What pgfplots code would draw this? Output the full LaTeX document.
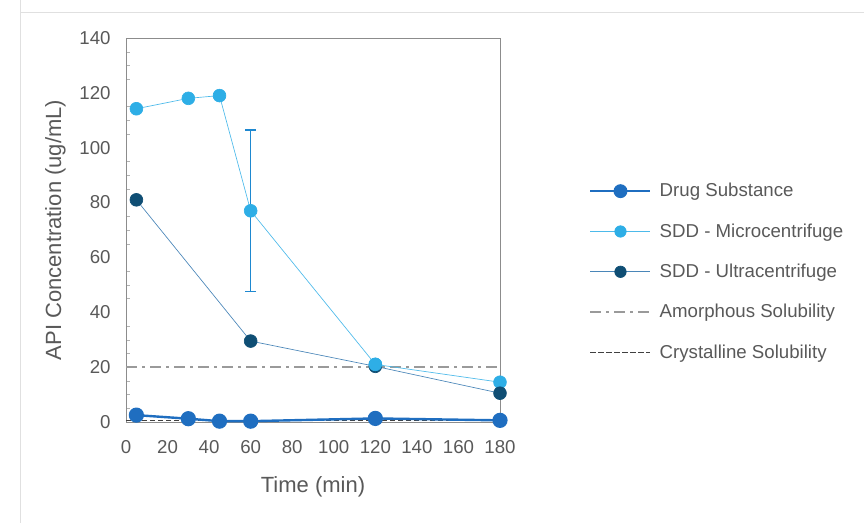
\documentclass[border=0pt]{standalone}
\usepackage{pgfplots}
\pgfplotsset{compat=1.18}
\usepackage{fontspec}
\setmainfont{Liberation Sans}
\definecolor{cds}{HTML}{1F6EC0}
\definecolor{cmic}{HTML}{2EAEE6}
\definecolor{cult}{HTML}{0F4E74}
\definecolor{cultline}{HTML}{4A86B8}
\definecolor{eb}{HTML}{1E88D0}
\definecolor{txt}{HTML}{595959}
\definecolor{amor}{HTML}{9A9A9A}
\definecolor{cryst}{HTML}{404040}
\begin{document}
\begin{tikzpicture}
\path[use as bounding box] (0pt,0pt) rectangle (648pt,392.25pt);
\draw[black!12] (15pt,392.25pt) -- (15pt,383.25pt) -- (648pt,383.25pt);
\draw[black!12] (15pt,383.25pt) -- (15pt,0pt);
\begin{axis}[
  at={(94.5pt,75.75pt)}, anchor=south west,
  scale only axis, width=280.5pt, height=288pt,
  xmin=0, xmax=180, ymin=0, ymax=140,
  xtick={0,20,...,180}, ytick={0,20,...,140},
  minor y tick num=3,
  tick style={draw=none},
  minor tick style={draw=black!30},
  ytick pos=left,
  axis line style={draw=black!45, line width=0.6pt},
  tick label style={font=\fontsize{14}{16}\selectfont, text=txt},
  xticklabel style={yshift=-10pt},
  yticklabel style={xshift=-8pt},
  /pgf/number format/assume math mode=true,
  xlabel={Time (min)}, ylabel={API Concentration (ug/mL)},
  label style={font=\fontsize{16.5}{19}\selectfont, text=txt},
  xlabel style={at={(axis description cs:0.5,-0.169)}, anchor=center},
  ylabel style={at={(axis description cs:-0.189,0.5)}, anchor=center},
  clip=false,
  legend cell align=left,
  legend style={at={(1.238,0.629)}, anchor=north west, draw=none, fill=none,
    font=\fontsize{14}{16}\selectfont, text=txt, row sep=14.6pt,
    inner sep=0pt, /tikz/every odd column/.append style={column sep=4pt}},
  legend image code/.code={\draw[mark repeat=2,mark phase=2,mark size=4.3pt,#1]
    plot coordinates {(0pt,0pt) (22.5pt,0pt) (45pt,0pt)};},
]
\addplot[cryst, dash pattern=on 4pt off 2pt, line width=1.2pt, forget plot] coordinates {(0,0.5) (180,0.5)};
\addplot[amor, dash pattern=on 8pt off 4pt on 2pt off 4pt, line width=1pt, forget plot] coordinates {(0,20) (180,20)};
\addplot[cds, line width=1.8pt, mark=*, mark size=4.8pt, mark options={solid, fill=cds, draw=cds}]
  coordinates {(5,2.5) (30,1.2) (45,0.3) (60,0.3) (120,1.3) (180,0.6)};
\addlegendentry{Drug Substance}
\addplot[cmic!85, line width=0.5pt, mark=*, mark size=4.8pt, mark options={fill=cmic, draw=cmic}]
  coordinates {(5,114.2) (30,118) (45,119) (60,77) (120,21) (180,14.5)};
\addlegendentry{SDD - Microcentrifuge}
\addplot[cultline, line width=0.5pt, mark=*, mark size=4.8pt, mark options={fill=cult, draw=cult}]
  coordinates {(5,81) (60,29.5) (120,20.3) (180,10.5)};
\addlegendentry{SDD - Ultracentrifuge}
\addplot[cmic, line width=0.5pt, mark=*, mark size=4.8pt, mark options={fill=cmic, draw=cmic}, forget plot]
  coordinates {(120,21)};
\addplot[forget plot, draw=none, mark=none,
  error bars/.cd, y dir=both, y explicit,
  error bar style={draw=eb, line width=1pt},
  error mark options={draw=eb, rotate=90, mark size=4pt, line width=1pt}]
  coordinates {(60,77) +- (0,29.5)};
\addlegendimage{amor, dash pattern=on 8pt off 4pt on 2pt off 4pt, line width=1pt}
\addlegendentry{Amorphous Solubility}
\addlegendimage{cryst, dash pattern=on 4pt off 2pt, line width=1.2pt}
\addlegendentry{Crystalline Solubility}
\end{axis}
\end{tikzpicture}
\end{document}
